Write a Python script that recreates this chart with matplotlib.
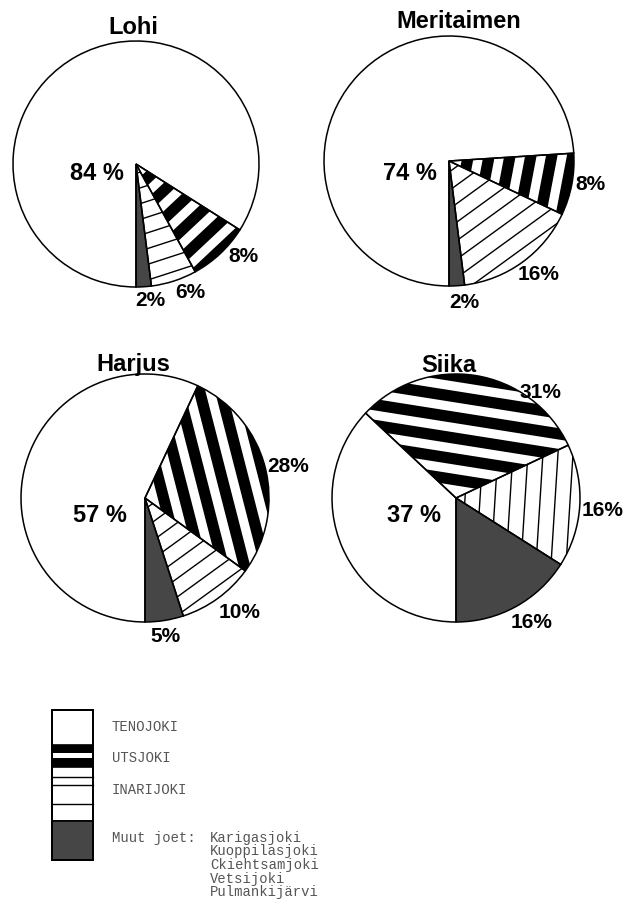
import numpy as np
import matplotlib.pyplot as plt
from matplotlib.patches import Polygon, Rectangle
from matplotlib.lines import Line2D

H = 910  # kuvan korkeus pikseleinä

# --- data ---
rivers = ['TENOJOKI', 'UTSJOKI', 'INARIJOKI', 'Muut joet:']
other_rivers = ['Karigasjoki', 'Kuoppilasjoki', 'Ckiehtsamjoki', 'Vetsijoki', 'Pulmankijärvi']

species = ['Lohi', 'Meritaimen', 'Harjus', 'Siika']
lohi = [84, 8, 6, 2]
meritaimen = [74, 8, 16, 2]
harjus = [57, 28, 10, 5]
siika = [37, 31, 16, 16]
shares = [lohi, meritaimen, harjus, siika]

# --- layout (pikselit, y ylhäältä) ---
layout = {
    'Lohi':       dict(c=(136, 164), r=123, title=(133, 27),
                       lab=[(97, 174), (243, 257), (190, 292), (150, 300)]),
    'Meritaimen': dict(c=(449, 161), r=125, title=(459, 22),
                       lab=[(410, 173), (590, 185), (539, 275), (464, 302)]),
    'Harjus':     dict(c=(145, 498), r=124, title=(133, 365),
                       lab=[(100, 515), (288, 467), (240, 613), (165, 637)]),
    'Siika':      dict(c=(456, 498), r=124, title=(449, 365),
                       lab=[(414, 515), (540, 392), (603, 510), (532, 623)]),
}

fill_colors = ['white', 'white', 'white', '#464646']
label_font = ['Liberation Sans', 'DejaVu Sans']


def hatch_wedge(ax, w, period, frac=None):
    # viivat / raidat kohtisuoraan sektorin keskisuuntaa vastaan
    m = np.deg2rad((w.theta1 + w.theta2) / 2)
    u = np.array([np.cos(m), np.sin(m)])
    v = np.array([-np.sin(m), np.cos(m)])
    c = np.array(w.center)
    r = w.r
    for d in np.arange(period * 0.6, r + period, period):
        if frac is None:
            p0, p1 = c + d * u - r * v, c + d * u + r * v
            ln = Line2D([p0[0], p1[0]], [p0[1], p1[1]], color='black', lw=1.0, zorder=2)
            ax.add_line(ln)
            ln.set_clip_path(w)
        else:
            d2 = d + frac * period
            pts = [c + d * u - r * v, c + d * u + r * v, c + d2 * u + r * v, c + d2 * u - r * v]
            pg = Polygon(pts, closed=True, facecolor='black', edgecolor='none', zorder=2)
            ax.add_patch(pg)
            pg.set_clip_path(w)


fig = plt.figure(figsize=(6.24, 9.10), dpi=100)
ax = fig.add_axes([0, 0, 1, 1])

for name, vals in zip(species, shares):
    L = layout[name]
    cx, cy = L['c'][0], H - L['c'][1]
    wedges, _ = ax.pie(vals, colors=fill_colors, startangle=-90, counterclock=False,
                       center=(cx, cy), radius=L['r'],
                       wedgeprops=dict(linewidth=0, edgecolor='none'))
    hatch_wedge(ax, wedges[1], 20.5, frac=0.55)   # Utsjoki: leveät raidat
    hatch_wedge(ax, wedges[2], 15)                # Inarijoki: ohuet viivat
    ax.pie(vals, startangle=-90, counterclock=False, center=(cx, cy), radius=L['r'],
           wedgeprops=dict(facecolor='none', edgecolor='black', linewidth=1.1, zorder=3))

    ax.text(L['title'][0], H - L['title'][1], name, fontsize=17, fontweight='bold',
            ha='center', va='center', family=label_font)
    for i, (v, (lx, ly)) in enumerate(zip(vals, L['lab'])):
        txt = f'{v} %' if i == 0 else f'{v}%'
        ax.text(lx, H - ly, txt, fontsize=17 if i == 0 else 15, fontweight='bold',
                ha='center', va='center', family=label_font)

# --- selite ---
bx0, bx1 = 52, 93
seg = [(710, 745), (745, 767), (767, 821), (821, 860)]
for i, (y0, y1) in enumerate(seg):
    ax.add_patch(Rectangle((bx0, H - y1), bx1 - bx0, y1 - y0, facecolor=fill_colors[i],
                           edgecolor='black', lw=1.2, zorder=3 if i == 0 else 2))
# Utsjoki-raidat
for y0, y1 in [(745, 753), (758, 767)]:
    ax.add_patch(Rectangle((bx0, H - y1), bx1 - bx0, y1 - y0, facecolor='black',
                           edgecolor='none', zorder=3))
# Inarijoki-viivat
for y in [777, 785, 804]:
    ax.plot([bx0, bx1], [H - y, H - y], color='black', lw=1.0, zorder=3)
ax.add_patch(Rectangle((bx0, H - 860), bx1 - bx0, 860 - 710, facecolor='none',
                       edgecolor='black', lw=1.4, zorder=4))

mono = dict(family=['Liberation Mono', 'DejaVu Sans Mono'], fontsize=10, color='#555555',
            va='center', ha='left')
label_y = [727, 758, 790, 838]
for name, y in zip(rivers, label_y):
    ax.text(112, H - y, name, **mono)
for i, name in enumerate(other_rivers):
    ax.text(210, H - (838 + i * 13.5), name, **mono)

ax.set_xlim(0, 624)
ax.set_ylim(0, H)
ax.set_aspect('equal')
ax.axis('off')

fig.savefig('out.png', dpi=100, facecolor='white')
